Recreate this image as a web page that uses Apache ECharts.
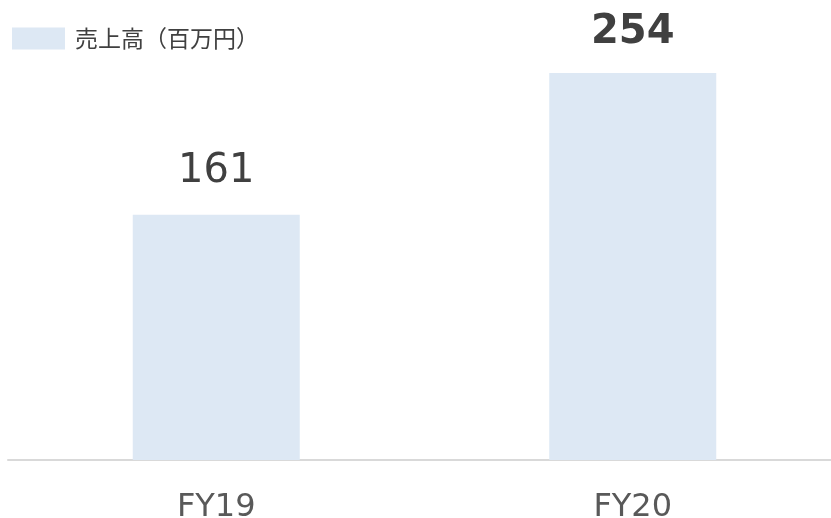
<!DOCTYPE html>
<html>
<head>
<meta charset="utf-8">
<script src="https://cdn.jsdelivr.net/npm/echarts@6/dist/echarts.min.js"></script>
<style>
  html, body { margin: 0; padding: 0; background: #fff; }
  #chart { width: 831px; height: 518px; }
</style>
</head>
<body>
<div id="chart"></div>
<script>
  // データ
  var categories = ['FY19', 'FY20']
  var seriesName = '売上高（百万円）'
  var sales = [161, 254]

  var chart = echarts.init(document.getElementById('chart'))
  var option = {
    animation: false,
    legend: {
      left: 7,
      top: 22,
      itemWidth: 53,
      itemHeight: 22,
      icon: 'rect',
      data: [seriesName],
      textStyle: {
        fontFamily: '"Noto Sans CJK JP", sans-serif',
        fontSize: 23,
        color: '#404040',
        padding: [0, 0, 0, 5]
      }
    },
    grid: {
      left: 8,
      right: -10,
      top: 3,
      bottom: 58,
      outerBoundsMode: 'none'
    },
    xAxis: {
      type: 'category',
      data: categories,
      axisLine: { lineStyle: { color: '#d9d9d9', width: 2 } },
      axisTick: { show: false },
      axisLabel: {
        margin: 32,
        fontFamily: '"DejaVu Sans", sans-serif',
        fontSize: 32,
        color: '#595959'
      }
    },
    yAxis: {
      type: 'value',
      min: 0,
      max: 300,
      show: false,
      splitLine: { show: false }
    },
    series: [{
      name: seriesName,
      type: 'bar',
      barWidth: 167,
      itemStyle: { color: '#dde8f4' },
      label: {
        show: true,
        position: 'top',
        distance: 23,
        fontFamily: '"DejaVu Sans", sans-serif',
        fontSize: 40,
        color: '#404040'
      },
      data: sales.map(function (v, i) {
        // FY20 は太字
        return i === 1 ? { value: v, label: { fontWeight: 'bold', distance: 20 } } : v
      })
    }]
  }
  chart.setOption(option)
</script>
</body>
</html>
